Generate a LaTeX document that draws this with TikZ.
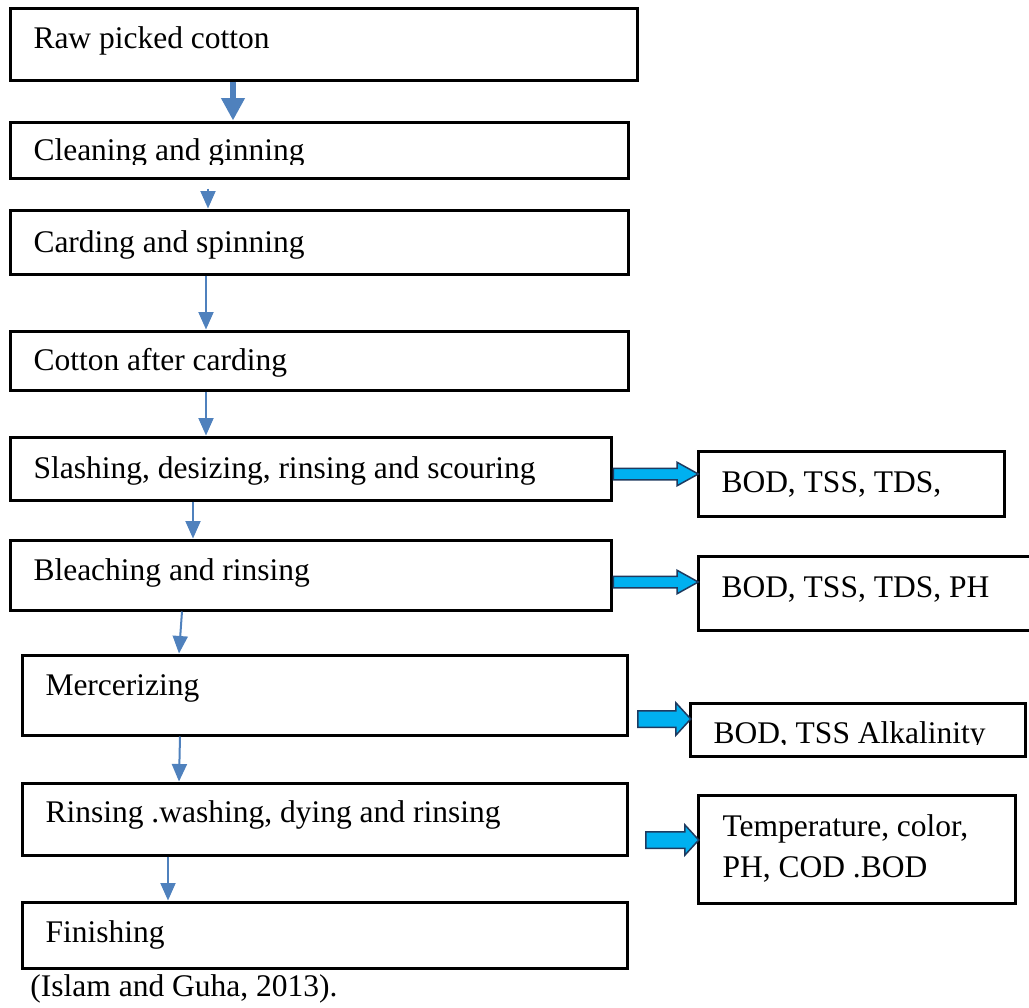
\documentclass[tikz,border=0pt]{standalone}
\usepackage{fontspec}
\setmainfont{Liberation Serif}
\usetikzlibrary{arrows.meta,shapes.arrows,fit}

\definecolor{flowblue}{HTML}{4F81BD}
\definecolor{outcyan}{HTML}{00B0F0}
\definecolor{outedge}{HTML}{1F3A5F}

\begin{document}
\begin{tikzpicture}[x=0.4pt,y=-0.4pt,
    stage/.style={draw=black,line width=1.2pt,rectangle,inner sep=0pt},
    txt/.style={anchor=base west,inner sep=0pt,
        font=\fontsize{12.6}{16.4}\selectfont},
    flow/.style={draw=flowblue,line width=0.8pt,
        -{Triangle[width=6pt,length=7pt,fill=flowblue]}},
    outarrow/.style={single arrow,draw=outedge,fill=outcyan,line width=0.6pt,
        inner xsep=0pt,anchor=tail}]

    \useasboundingbox (0,0) rectangle (1029,1008);

    % the process chain
    \node[stage,fit={(10,8) (637,80)}] (raw) {};
    \node[stage,fit={(10,122) (628,178)}] (clean) {};
    \node[stage,fit={(10,210) (628,274)}] (card) {};
    \node[stage,fit={(10,331) (628,390)}] (after) {};
    \node[stage,fit={(10,437) (611,500)}] (slash) {};
    \node[stage,fit={(10,540) (611,610)}] (bleach) {};
    \node[stage,fit={(22,655) (627,735)}] (merc) {};
    \node[stage,fit={(22,783) (627,855)}] (dye) {};
    \node[stage,fit={(22,902) (627,968)}] (finish) {};

    \node[txt] (raw-t) at (33,48) {Raw picked cotton};
    \begin{scope}
      \clip (clean.north west) rectangle (628,164);
      \node[txt] (clean-t) at (33,160) {Cleaning and ginning};
    \end{scope}
    \node[txt] (card-t) at (33,252) {Carding and spinning};
    \node[txt] (after-t) at (33,370) {Cotton after carding};
    \node[txt] (slash-t) at (33,478) {Slashing, desizing, rinsing and scouring};
    \node[txt] (bleach-t) at (33,580) {Bleaching and rinsing};
    \node[txt] (merc-t) at (45,695) {Mercerizing};
    \node[txt] (dye-t) at (45,822) {Rinsing .washing, dying and rinsing};
    \node[txt] (finish-t) at (45,942) {Finishing};

    % the waste water
    \node[stage,fit={(698,451) (1004,516)}] (bod1) {};
    \node[stage,fit={(698,556) (1035,630)}] (bod2) {};
    \node[stage,fit={(690,703) (1025,756)}] (alk) {};
    \node[stage,fit={(698,795) (1015,903)}] (temp) {};

    \node[txt] (bod1-t) at (721,492) {BOD, TSS, TDS,};
    \node[txt] (bod2-t) at (721,597) {BOD, TSS, TDS, PH};
    \begin{scope}
      \clip (alk.north west) rectangle (1025,744);
      \node[txt] (alk-t) at (713,743) {BOD, TSS Alkalinity};
    \end{scope}
    \node[txt,align=left] (temp-t) at (722,877) {Temperature, color,\\PH, COD .BOD};

    \draw[draw=flowblue,line width=2.4pt,
        -{Triangle[width=9pt,length=9pt,fill=flowblue]}]
        (233,0 |- raw.south) -- (233,0 |- clean.north);
    \draw[flow,shorten <=9*0.4pt] (208,0 |- clean.south) -- (208,0 |- card.north);
    \draw[flow] (206,0 |- card.south) -- (206,0 |- after.north);
    \draw[flow] (206,0 |- after.south) -- (206,0 |- slash.north);
    \draw[flow] (193,0 |- slash.south) -- (193,0 |- bleach.north);
    \draw[flow] (182,0 |- bleach.south) -- (179,0 |- merc.north);
    \draw[flow] (180,0 |- merc.south) -- (179,0 |- dye.north);
    \draw[flow] (168,0 |- dye.south) -- (168,0 |- finish.north);

    \node[outarrow,minimum height=85*0.4pt,inner ysep=2pt,
        single arrow head extend=6*0.4pt,single arrow tip angle=58]
        (a1) at (slash.east |- 0,474) {};
    \node[outarrow,minimum height=85*0.4pt,inner ysep=2pt,
        single arrow head extend=6*0.4pt,single arrow tip angle=58]
        (a2) at (bleach.east |- 0,582) {};
    \node[outarrow,minimum height=53*0.4pt,inner ysep=3pt,
        single arrow head extend=8*0.4pt,single arrow tip angle=95]
        (a3) at (637,719) {};
    \node[outarrow,minimum height=53*0.4pt,inner ysep=3pt,
        single arrow head extend=7*0.4pt,single arrow tip angle=95]
        (a4) at (645,840) {};

    \node[txt] (cite) at (30,996) {(Islam and Guha, 2013).};
  \end{tikzpicture}
\end{document}
